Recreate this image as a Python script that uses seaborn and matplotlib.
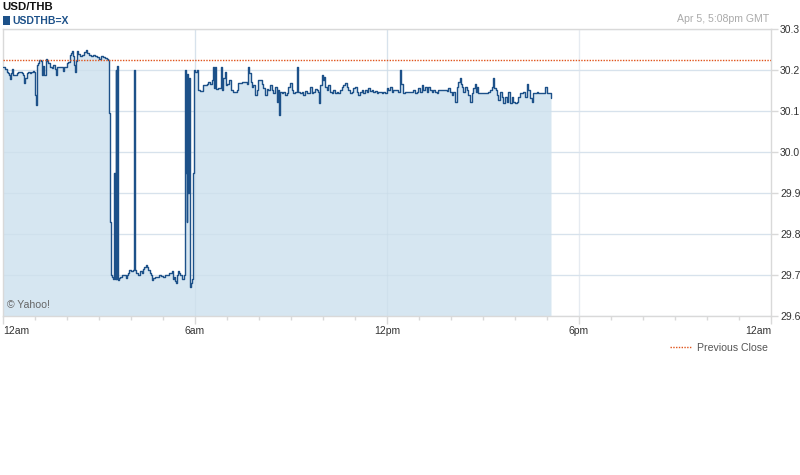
import numpy as np
import pandas as pd
import matplotlib
matplotlib.use("Agg")
import matplotlib.pyplot as plt
import seaborn as sns
from matplotlib import font_manager
from matplotlib.ticker import MultipleLocator, FixedLocator
from matplotlib.lines import Line2D
from matplotlib.patches import Rectangle

# ---- data (minutes after midnight GMT, USD/THB rate) ----
minutes = [
    0, 3.75, 7.5, 9.4, 11.3, 13.1, 15, 16.9, 18.8, 22.5, 26.3, 28.1, 31.9, 35.6, 37.5, 39.4, 41.3,
    45, 46.9, 50.6, 52.5, 56.3, 58.1, 60, 61.9, 63.8, 65.6, 67.5, 71.3, 73.1, 75, 76.9, 80.6, 82.5,
    84.4, 88.1, 91.9, 93.8, 97.5, 99.4, 101.3, 106.9, 110.6, 112.5, 114.4, 118.1, 120, 121.9, 125.6,
    127.5, 129.4, 131.3, 133.1, 135, 136.9, 138.8, 140.6, 144.4, 148.1, 151.9, 155.6, 157.5, 161.3,
    165, 168.8, 172.5, 176.3, 180, 183.8, 187.5, 191.3, 195, 196.9, 198.8,
    199.7, 201.6, 204.4, 206.3, 208.1, 209.4, 211.3, 212.4, 214.3, 215.6, 217.5, 219.4, 223.1, 226.9,
    230.6, 232.5, 234.4, 236.3, 240, 243.8, 245.6, 246.8, 247.9, 249.4, 253.1, 256.9, 260.6, 262.5,
    264.4, 268.1, 270, 271.9, 275.6, 277.5, 279.4, 281.3, 285, 288.8, 292.5, 296.3, 300, 303.8, 307.5,
    311.3, 316.9, 318.8, 320.6, 322.5, 324.4, 326.3, 328.1, 330, 331.9, 335.6, 339.4, 341.3, 343.1,
    344.4, 345.9, 347.4, 348.8, 349.7, 350.6, 352.5, 354.4, 356.3, 358.1, 360, 363.2,
    366.3, 369.4, 372.5, 375.6, 378.8, 381.9, 385, 388.1, 391.3, 394.4, 396.3, 397.5, 399.4, 403.8,
    406.9, 408.1, 410, 413.1, 416.3, 418.1, 420.6, 424.4, 426.9, 430.6, 435, 438.1, 441.3, 447.5,
    453.8, 456.9, 460, 461.9, 464.4, 466.3, 469.4, 472.5, 475.6, 478.8, 481.9, 485, 488.1, 491.3,
    494.4, 497.5, 500.6, 503.8, 506.9, 510, 513.1, 514.4, 516.3, 518.1, 519.4, 522.5, 525.6, 528.8,
    531.9, 535, 538.1, 541.3, 544.4, 547.5, 550.6, 552.5, 553.8, 556.9, 560, 563.1, 566.3, 569.4,
    572.5, 575.6, 578.8, 581.9, 585, 588.1, 591.3, 593.1, 594.4, 597.5, 599.4, 601.9, 603.8, 606.9,
    610, 613.1, 616.3, 619.4, 622.5, 625.6, 628.8, 631.9, 635, 638.1, 641.3, 644.4, 647.5, 650.6,
    653.8, 656.9, 660, 663.1, 666.3, 669.4, 672.5, 675.6, 678.8, 681.9, 685, 688.1, 691.3, 694.4,
    697.5, 700.6, 703.8,
    706.9, 710, 713.1, 716.3, 719.4, 722.5, 725.6, 728.8, 731.9, 735, 738.1, 741.3, 744.4, 746.3,
    750.6, 753.8, 756.9, 760, 763.1, 766.3, 769.4, 772.5, 775.6, 778.8, 781.9, 785, 788.1, 791.3,
    794.4, 797.5, 800.6, 803.8, 806.9, 810, 813.1, 816.3, 819.4, 822.5, 825.6, 828.8, 831.9, 835,
    838.1, 841.3, 844.4, 847.5, 850.6, 853.8, 856.9, 858.8, 861.3, 863.1, 866.3, 869.4, 872.5, 875.6,
    878.8, 881.9, 885, 886.9, 888.1, 891.3, 894.4, 897.5, 900.6, 903.8, 906.9, 910, 913.1, 916.3,
    919.4, 921.3, 923.8, 925.6, 928.8, 931.9, 935, 938.1, 941.3, 944.4, 947.5, 950.6, 953.8, 956.9,
    960, 963.1, 966.3, 969.4, 972.5, 975.6, 978.8, 981.9, 985, 988.1, 991.3, 994.4, 997.5, 1000.6,
    1003.8, 1006.9, 1010, 1013.1, 1016.3, 1019.4, 1022.5, 1025.6, 1027.5,
]
rate = [
    30.208, 30.202, 30.196, 30.192, 30.188, 30.177, 30.192, 30.202, 30.188, 30.188, 30.192, 30.196,
    30.196, 30.192, 30.188, 30.169, 30.180, 30.192, 30.196, 30.193, 30.196, 30.198, 30.196, 30.139,
    30.115, 30.212, 30.218, 30.224, 30.223, 30.188, 30.210, 30.188, 30.226, 30.223, 30.216, 30.208,
    30.204, 30.212, 30.202, 30.188, 30.208, 30.208, 30.208, 30.198, 30.208, 30.208, 30.216, 30.220,
    30.237, 30.242, 30.247, 30.234, 30.212, 30.196, 30.223, 30.247, 30.239, 30.234, 30.237, 30.245,
    30.249, 30.241, 30.237, 30.234, 30.237, 30.233, 30.231, 30.226, 30.233, 30.231, 30.229, 30.226,
    30.224, 30.095,
    29.830, 29.700, 29.695, 29.690, 29.950, 29.690, 30.200, 29.690, 30.210, 29.688, 29.692, 29.695,
    29.700, 29.700, 29.692, 29.700, 29.705, 29.712, 29.710, 29.712, 30.200, 29.950, 29.712, 29.705,
    29.700, 29.710, 29.705, 29.715, 29.720, 29.724, 29.720, 29.712, 29.705, 29.700, 29.688, 29.692,
    29.695, 29.696, 29.700, 29.698, 29.695, 29.700, 29.700, 29.705, 29.710, 29.690, 29.695, 29.685,
    29.680, 29.700, 29.710, 29.705, 29.700, 29.690, 29.700, 30.200, 29.950, 29.830, 30.190, 29.900,
    30.180, 29.680, 29.670, 29.680, 29.690, 29.950, 30.200, 30.196, 30.200,
    30.151, 30.149, 30.150, 30.163, 30.163, 30.166, 30.172, 30.167, 30.176, 30.208, 30.155, 30.208,
    30.153, 30.155, 30.155, 30.208, 30.151, 30.180, 30.196, 30.163, 30.166, 30.176, 30.151, 30.147,
    30.147, 30.151, 30.169, 30.172, 30.172, 30.167, 30.208, 30.192, 30.172, 30.159, 30.163, 30.139,
    30.151, 30.176, 30.176, 30.167, 30.155, 30.139, 30.153, 30.151, 30.163, 30.151, 30.143, 30.159,
    30.151, 30.123, 30.151, 30.090, 30.147, 30.143, 30.147, 30.139, 30.143, 30.159, 30.169, 30.151,
    30.143, 30.147, 30.208, 30.184, 30.147, 30.143, 30.147, 30.139, 30.150, 30.143, 30.143, 30.158,
    30.143, 30.147, 30.153, 30.151, 30.147, 30.120, 30.163, 30.188, 30.176, 30.184, 30.159, 30.151,
    30.163, 30.147, 30.143, 30.151, 30.143, 30.147, 30.143, 30.151, 30.159, 30.163, 30.169, 30.159,
    30.151, 30.143, 30.147, 30.155, 30.159, 30.147, 30.139, 30.147, 30.151, 30.143, 30.151, 30.147,
    30.155, 30.150, 30.151, 30.147, 30.150, 30.143, 30.147,
    30.146, 30.143, 30.147, 30.143, 30.155, 30.151, 30.159, 30.147, 30.151, 30.151, 30.151, 30.147,
    30.200, 30.167, 30.143, 30.147, 30.147, 30.147, 30.147, 30.147, 30.151, 30.143, 30.147, 30.155,
    30.147, 30.163, 30.151, 30.159, 30.147, 30.159, 30.151, 30.147, 30.151, 30.147, 30.143, 30.151,
    30.151, 30.151, 30.151, 30.151, 30.150, 30.155, 30.147, 30.139, 30.147, 30.123, 30.159, 30.172,
    30.180, 30.167, 30.159, 30.147, 30.159, 30.151, 30.139, 30.123, 30.143, 30.155, 30.167, 30.147,
    30.159, 30.145, 30.145, 30.145, 30.145, 30.145, 30.143, 30.147, 30.151, 30.159, 30.180, 30.155,
    30.151, 30.139, 30.127, 30.147, 30.135, 30.119, 30.135, 30.123, 30.147, 30.119, 30.135, 30.123,
    30.119, 30.123, 30.135, 30.143, 30.143, 30.147, 30.135, 30.167, 30.151, 30.131, 30.123, 30.143,
    30.143, 30.147, 30.145, 30.143, 30.145, 30.143, 30.159, 30.143, 30.145, 30.145, 30.131,
]
previous_close = 30.224
y_ticks = [29.6, 29.7, 29.8, 29.9, 30.0, 30.1, 30.2, 30.3]
x_tick_hours = [0, 6, 12, 18, 24]
x_tick_labels = ["12am", "6am", "12pm", "6pm", "12am"]
title = "USD/THB"
symbol = "USDTHB=X"
timestamp = "Apr 5, 5:08pm GMT"

df = pd.DataFrame({"hour": np.array(minutes) / 60.0, "rate": rate})

sns.set_theme(style="white")

# prefer a narrow Arial-like face if present, else regular Liberation Sans
try:
    font_manager.findfont("Liberation Sans Narrow", fallback_to_default=False)
    NARROW = True
except Exception:
    NARROW = False
if NARROW:
    plt.rcParams["font.family"] = ["Liberation Sans Narrow", "Liberation Sans", "DejaVu Sans"]
    fs_title, fs_sym, fs_tick, fs_small = 9.5, 8.0, 8.5, 8.5
else:
    plt.rcParams["font.family"] = ["Liberation Sans", "DejaVu Sans"]
    fs_title, fs_sym, fs_tick, fs_small = 8.2, 7.5, 7.5, 7.6

LINE = "#1d5189"
FILL = "#d6e6f1"
GRID = "#e6ebf1"
FRAME = "#d9d9d9"
TXT = "#333333"

fig = plt.figure(figsize=(8, 4.75), dpi=100)
ax = fig.add_axes([0.00375, 0.3347, 0.96, 0.6042])

ax.set_xlim(0, 24)
ax.set_ylim(29.6, 30.3)

ax.fill_between(df["hour"], df["rate"], 29.6, step="post", color=FILL, lw=0, zorder=1)
sns.lineplot(data=df, x="hour", y="rate", ax=ax, color=LINE, lw=1.0,
             drawstyle="steps-post", estimator=None, sort=False, zorder=3)
ax.axhline(previous_close, color="#e0531a", lw=1.0, ls=(0, (1, 1)), zorder=4)

# grid
for yv in y_ticks:
    ax.axhline(yv, color=GRID, lw=1.0, zorder=0.5)
for xv in [6, 12, 18]:
    ax.axvline(xv, color=GRID, lw=1.0, zorder=0.5)
for yv in y_ticks[1:-1]:
    ax.axhline(yv, color="#c9dbe8", lw=0.8, alpha=0.5, zorder=2)
for xv in [6, 12]:
    ax.axvline(xv, color="#c9dbe8", lw=0.8, alpha=0.5, zorder=2)

for s in ax.spines.values():
    s.set_color(FRAME)
    s.set_linewidth(1.0)

ax.yaxis.tick_right()
ax.set_yticks(y_ticks)
ax.set_yticklabels([f"{v:.1f}" for v in y_ticks])
ax.xaxis.set_major_locator(FixedLocator(x_tick_hours))
ax.set_xticklabels(x_tick_labels)
ax.xaxis.set_minor_locator(MultipleLocator(1))
ax.tick_params(axis="y", which="both", right=True, left=False, length=5, width=1,
               color=FRAME, labelsize=fs_tick, labelcolor=TXT, pad=1.5)
ax.tick_params(axis="x", which="major", bottom=True, length=6, width=1, color=FRAME,
               labelsize=fs_tick, labelcolor=TXT, pad=1)
ax.tick_params(axis="x", which="minor", bottom=True, length=3, width=1, color=FRAME)
xl = ax.get_xticklabels()
xl[0].set_horizontalalignment("left")
xl[-1].set_horizontalalignment("right")
ax.set_xlabel("")
ax.set_ylabel("")
ax.grid(False)

# texts
fig.text(2 / 800, 1 - 7 / 475, title, fontsize=fs_title, fontweight="bold", color="#111111",
         ha="left", va="center")
fig.patches.append(Rectangle((3 / 800, 1 - 25 / 475), 7 / 800, 9 / 475,
                             transform=fig.transFigure, facecolor=LINE, edgecolor="none"))
fig.text(12.5 / 800, 1 - 20.5 / 475, symbol, fontsize=fs_sym, fontweight="bold", color=LINE,
         ha="left", va="center")
fig.text(769 / 800, 1 - 19 / 475, timestamp, fontsize=fs_small, color="#aaaaaa",
         ha="right", va="center")
ax.text(0.005, 0.04, "\u00A9 Yahoo!", transform=ax.transAxes, fontsize=fs_small,
        color="#666666", ha="left", va="center")

leg_handle = Line2D([], [], color="#e0531a", lw=1.0, ls=(0, (1, 1)))
fig.legend([leg_handle], ["Previous Close"], loc="center right",
           bbox_to_anchor=(773 / 800, 1 - 348 / 475), frameon=False, fontsize=fs_small,
           labelcolor="#555555", handlelength=2.0, handletextpad=0.5, borderpad=0)

fig.savefig("out.png", dpi=100)
